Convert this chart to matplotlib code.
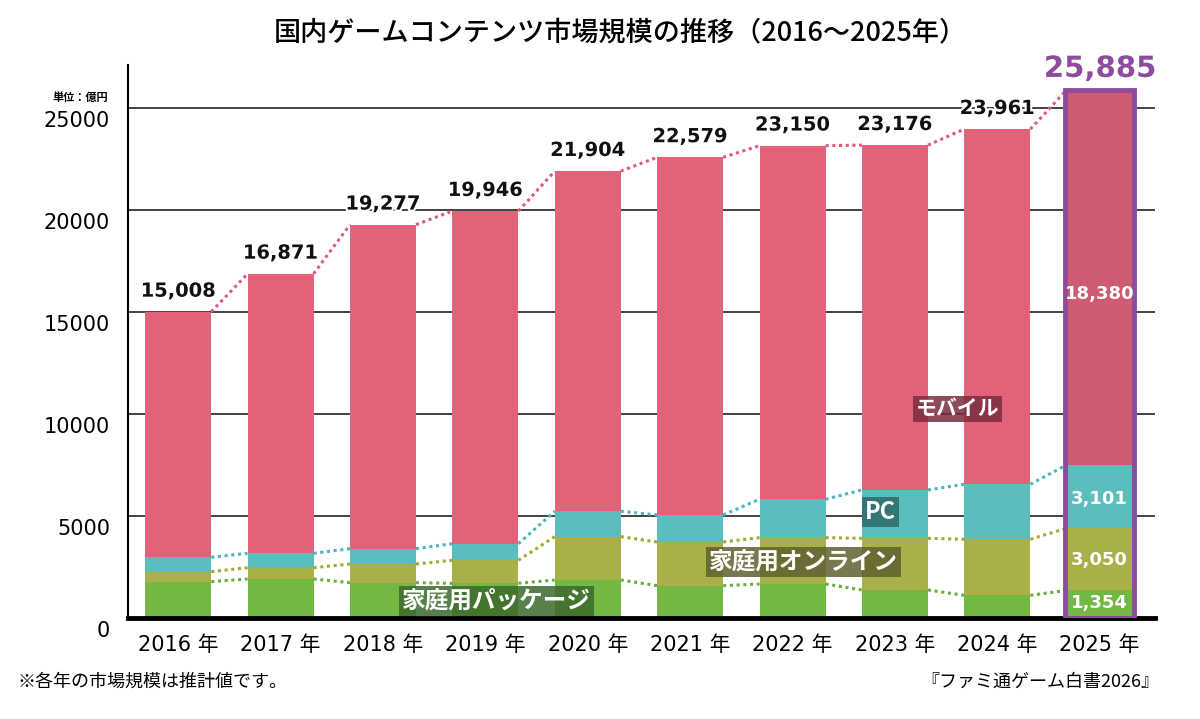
import matplotlib
matplotlib.use('Agg')
from matplotlib import pyplot as plt
from matplotlib import transforms
import matplotlib.patheffects as pe
import numpy as np

plt.rcParams['font.family'] = ['DejaVu Sans', 'Noto Sans CJK JP']

years = ['2016', '2017', '2018', '2019', '2020', '2021', '2022', '2023', '2024', '2025']
package = [1780, 1910, 1730, 1700, 1862, 1585, 1667, 1372, 1111, 1354]
online = [490, 555, 917, 1128, 2123, 2140, 2270, 2533, 2745, 3050]
pc = [705, 705, 750, 814, 1245, 1325, 1883, 2370, 2697, 3101]
mobile = [12033, 13701, 15880, 16304, 16674, 17529, 17330, 16901, 17408, 18380]
totals = [15008, 16871, 19277, 19946, 21904, 22579, 23150, 23176, 23961, 25885]

C_MOBILE = '#e0637a'
C_MOBILE_LAST = '#cf5b72'
C_PC = '#5cbdbd'
C_ONLINE = '#a9b04a'
C_PACKAGE = '#72b843'
C_PURPLE = '#8e4c9f'
JP = ['Noto Sans CJK JP', 'DejaVu Sans']

fig = plt.figure(figsize=(12, 7.19), dpi=100)
ax = fig.add_axes([0.1067, 0.1405, 0.8558, 0.769])

x = np.arange(len(years))
w = 0.645
b1 = np.array(package)
b2 = b1 + np.array(online)
b3 = b2 + np.array(pc)

mob_colors = [C_MOBILE] * (len(years) - 1) + [C_MOBILE_LAST]
ax.bar(x, package, w, color=C_PACKAGE, zorder=2)
ax.bar(x, online, w, bottom=b1, color=C_ONLINE, zorder=2)
ax.bar(x, pc, w, bottom=b2, color=C_PC, zorder=2)
ax.bar(x, mobile, w, bottom=b3, color=mob_colors, zorder=2)
# highlight frame on the last year
ax.bar(x[-1:], totals[-1:], w + 0.03, fill=False, edgecolor=C_PURPLE, linewidth=3.5, zorder=3)

# dotted connectors between bar corners
for vals, col in [(totals, '#e2587a'), (b3, '#4db3bd'), (b2, '#a3a832'), (b1, '#6aae3c')]:
    for i in range(len(years) - 1):
        ax.plot([x[i] + w / 2, x[i + 1] - w / 2], [vals[i], vals[i + 1]],
                linestyle=(0, (1, 1.2)), color=col, linewidth=2.2, zorder=2)

halo = [pe.withStroke(linewidth=3, foreground='white')]
for i in range(len(years) - 1):
    ax.annotate(f'{totals[i]:,}', (x[i], totals[i]), xytext=(0, 8), textcoords='offset points',
                ha='center', va='bottom', fontsize=14, fontweight='bold', color='#111111', zorder=4,
                path_effects=halo)
ax.annotate(f'{totals[-1]:,}', (x[-1], totals[-1]), xytext=(0, 5), textcoords='offset points',
            ha='center', va='bottom', fontsize=21, fontweight='bold', color=C_PURPLE, zorder=4,
            path_effects=halo)

# values inside the last bar
ax.text(x[-1], b3[-1] + mobile[-1] * 0.455, f'{mobile[-1]:,}', ha='center', va='center',
        fontsize=13, fontweight='bold', color='white', zorder=4)
ax.text(x[-1], b2[-1] + pc[-1] * 0.46, f'{pc[-1]:,}', ha='center', va='center',
        fontsize=13, fontweight='bold', color='white', zorder=4)
ax.text(x[-1], b1[-1] + online[-1] * 0.49, f'{online[-1]:,}', ha='center', va='center',
        fontsize=13, fontweight='bold', color='white', zorder=4)
ax.text(x[-1], package[-1] * 0.54, f'{package[-1]:,}', ha='center', va='center',
        fontsize=13, fontweight='bold', color='white', zorder=4)

# series labels
def tag(xp, yp, s, bg, size):
    ax.text(xp, yp, s, ha='center', va='center', fontsize=size, fontweight='bold', color='white',
            family=JP, zorder=5,
            bbox=dict(boxstyle='square,pad=0.12', facecolor=bg, edgecolor='none', alpha=0.85))

tag(7.61, 10245, 'モバイル', '#7a2c3e', 15)
tag(6.86, 5196, 'PC', '#2c6a6a', 17)
tag(6.11, 2745, '家庭用オンライン', '#5f6030', 17)
tag(3.11, 833, '家庭用パッケージ', '#3b6a2b', 17)

ax.set_xlim(-0.49, 9.54)
ax.set_ylim(0, 27100)
ax.set_yticks([0, 5000, 10000, 15000, 20000, 25000])
ax.set_yticklabels(['0', '5000', '10000', '15000', '20000', '25000'], fontsize=15)
ax.set_xticks(x)
ax.set_xticklabels([y + ' 年' for y in years], fontsize=15)
ax.tick_params(axis='both', length=0)
ax.tick_params(axis='y', pad=13)
ax.tick_params(axis='x', pad=12)
# y tick labels sit a little below their grid lines
shift = transforms.ScaledTranslation(0, -11 / 100, fig.dpi_scale_trans)
for lab in ax.get_yticklabels():
    lab.set_transform(lab.get_transform() + shift)
ax.yaxis.grid(True, color='#222222', linewidth=1.2, zorder=0)
ax.set_axisbelow(True)
for s in ['top', 'right']:
    ax.spines[s].set_visible(False)
ax.spines['left'].set_linewidth(1.5)
ax.spines['bottom'].set_linewidth(3.5)

fig.text(0.517, 0.954, '国内ゲームコンテンツ市場規模の推移（2016～2025年）', ha='center', va='center',
         fontsize=19.5, fontweight='medium', family=JP)
fig.text(0.09, 0.865, '単位：億円', ha='right', va='center', fontsize=8, fontweight='bold', family=JP)
fig.text(0.015, 0.052, '※各年の市場規模は推計値です。', ha='left', va='center', fontsize=13, family=JP)
fig.text(0.966, 0.052, '『ファミ通ゲーム白書2026』', ha='right', va='center', fontsize=13, family=JP)

fig.savefig('out.png', dpi=100, facecolor='white')
